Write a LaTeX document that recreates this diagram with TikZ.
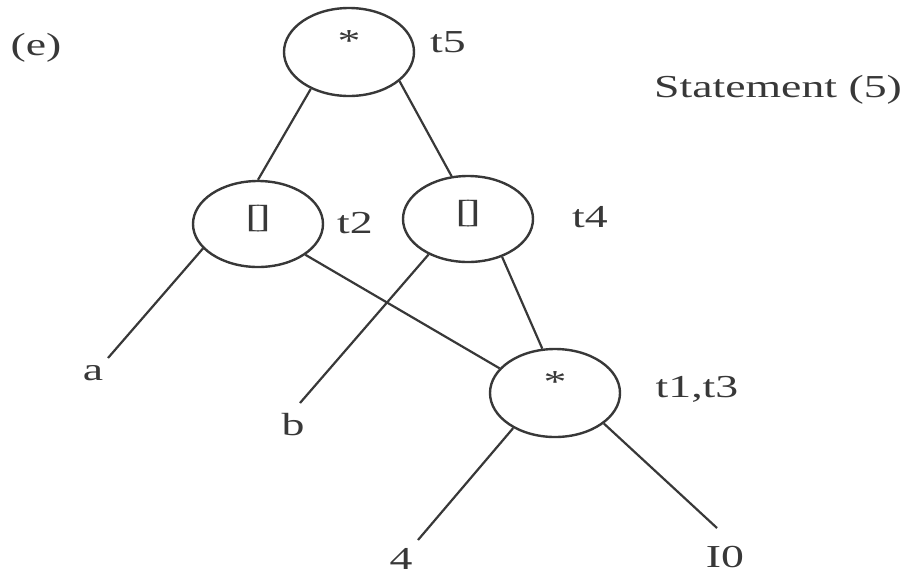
\documentclass[tikz,border=0pt]{standalone}
\usepackage{fontspec}
\setmainfont{Liberation Serif}
\usepackage{graphicx}
\usetikzlibrary{shapes.geometric}
\definecolor{ink}{HTML}{383838}
\newcommand{\wdtxt}[1]{\scalebox{1.43}[1]{#1}}
\begin{document}
\begin{tikzpicture}[x=1pt,y=-1pt,
  op/.style={ellipse, draw=ink, line width=2.4pt, minimum width=130pt, minimum height=86pt,
    inner sep=0pt, text=ink, font=\fontsize{32}{36}\selectfont, text height=0.7em, text depth=0.1em},
  lbl/.style={text=ink, font=\fontsize{32}{36}\selectfont, inner sep=0pt, anchor=base},
  edge/.style={draw=ink, line width=2.2pt}]
\useasboundingbox (0,0) rectangle (907,579);
% operator nodes
\node[op, minimum height=88pt] (t5)  at (349,52)  {\wdtxt{\raisebox{4pt}{*}}};
\node[op] (t2)  at (258,224) {\wdtxt{[\kern-0.12em]}};
\node[op] (t4)  at (468,219) {\wdtxt{[\kern-0.12em]}};
\node[op, minimum height=88pt] (t13) at (555,393) {\wdtxt{\raisebox{4pt}{*}}};
% labels
\node[lbl] (e)    at (36,55)   {\wdtxt{(e)}};
\node[lbl] (lt5)  at (448,52)  {\wdtxt{t5}};
\node[lbl] (stmt) at (778,97)  {\wdtxt{Statement (5)}};
\node[lbl] (lt2)  at (355,233) {\wdtxt{t2}};
\node[lbl] (lt4)  at (590,227) {\wdtxt{t4}};
\node[lbl] (lt13) at (697,397) {\wdtxt{t1,t3}};
\node[lbl] (a)    at (93,380)  {\wdtxt{a}};
\node[lbl] (b)    at (293,435) {\wdtxt{b}};
\node[lbl] (four) at (401,569) {\wdtxt{4}};
\node[lbl] (ten)  at (725,567) {\wdtxt{I0}};
% free ends of leaf connectors
\coordinate (ea) at (108,358);
\coordinate (eb) at (300,403);
\coordinate (e4) at (418,540);
\coordinate (e10) at (717,528);
% connectors
\draw[edge] (t5.224) -- (t2.north);
\draw[edge] (t5.330) -- (t4.111);
\draw[edge] (t2.204) -- (ea);
\draw[edge] (t2.327) -- (t13.156);
\draw[edge] (t4.222) -- (eb);
\draw[edge] (t4.312) -- (t13.106);
\draw[edge] (t13.220) -- (e4);
\draw[edge] (t13.328) -- (e10);
\end{tikzpicture}
\end{document}
